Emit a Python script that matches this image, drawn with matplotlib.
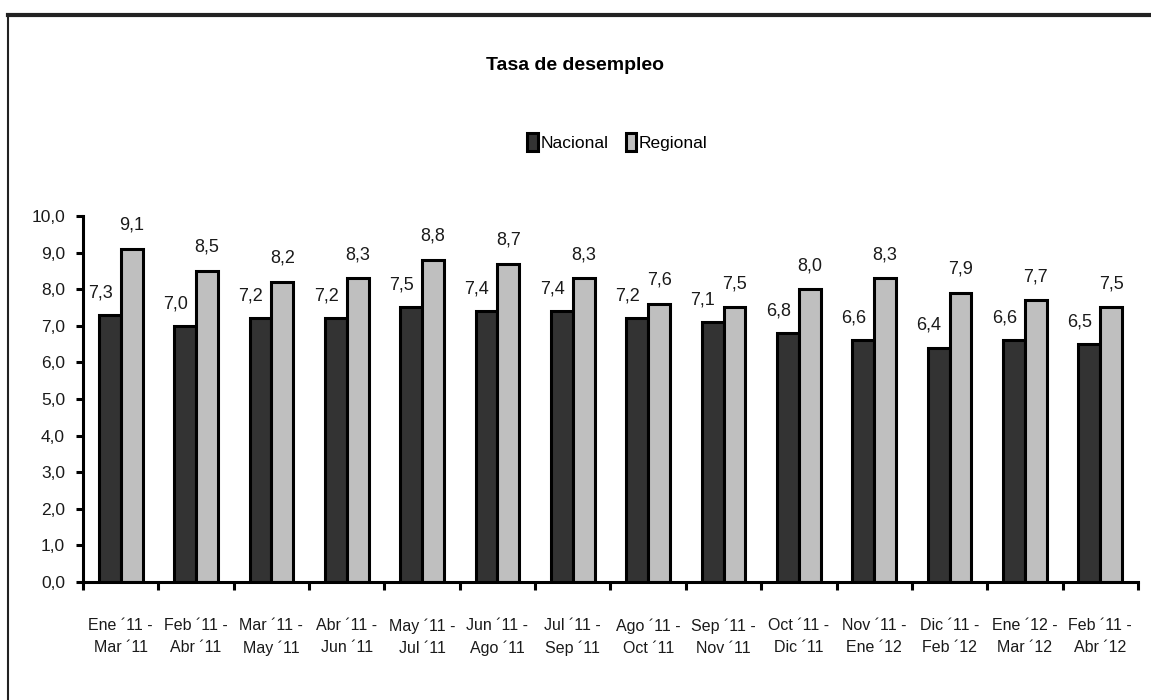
import matplotlib
matplotlib.use("Agg")
import matplotlib.pyplot as plt
from matplotlib.lines import Line2D
from matplotlib.ticker import FixedLocator, NullFormatter
import numpy as np

categories = ["Ene ´11 -\nMar ´11", "Feb ´11 -\nAbr ´11", "Mar ´11 -\nMay ´11", "Abr ´11 -\nJun ´11",
              "May ´11 -\nJul ´11", "Jun ´11 -\nAgo ´11", "Jul ´11 -\nSep ´11", "Ago ´11 -\nOct ´11",
              "Sep ´11 -\nNov ´11", "Oct ´11 -\nDic ´11", "Nov ´11 -\nEne ´12", "Dic ´11 -\nFeb ´12",
              "Ene ´12 -\nMar ´12", "Feb ´11 -\nAbr ´12"]
nacional = [7.3, 7.0, 7.2, 7.2, 7.5, 7.4, 7.4, 7.2, 7.1, 6.8, 6.6, 6.4, 6.6, 6.5]
regional = [9.1, 8.5, 8.2, 8.3, 8.8, 8.7, 8.3, 7.6, 7.5, 8.0, 8.3, 7.9, 7.7, 7.5]
series_names = ["Nacional", "Regional"]
title = "Tasa de desempleo"
yticks = [0, 1, 2, 3, 4, 5, 6, 7, 8, 9, 10]

FONT = ["Liberation Sans Narrow", "Liberation Sans", "DejaVu Sans"]
plt.rcParams["font.family"] = FONT

fig = plt.figure(figsize=(11.51, 7.0), dpi=100)
ax = fig.add_axes([0.0721, 0.1686, 0.9166, 0.5229])

x = np.arange(len(categories))
w = 0.29
b1 = ax.bar(x - w / 2, nacional, w, color="#333333", edgecolor="black", linewidth=2.2, label=series_names[0])
b2 = ax.bar(x + w / 2, regional, w, color="#bfbfbf", edgecolor="black", linewidth=2.2, label=series_names[1])

for xi, v in zip(x, nacional):
    ax.annotate(f"{v:.1f}".replace(".", ","), (xi - w / 2, v), xytext=(-7, 16), textcoords="offset points",
                ha="center", va="center", fontsize=13, color="#1a1a1a")
for xi, v in zip(x, regional):
    ax.annotate(f"{v:.1f}".replace(".", ","), (xi + w / 2, v), xytext=(0, 17), textcoords="offset points",
                ha="center", va="center", fontsize=13, color="#1a1a1a")

ax.set_xlim(-0.5, len(categories) - 0.5)
ax.set_ylim(0, 10)
ax.set_yticks(yticks)
ax.set_yticklabels([f"{t:.1f}".replace(".", ",") for t in yticks], fontsize=12.5, color="#1a1a1a")
ax.tick_params(axis="y", direction="out", length=5, width=2.2, pad=8)

ax.xaxis.set_major_locator(FixedLocator(np.arange(-0.5, len(categories), 1.0)))
ax.xaxis.set_major_formatter(NullFormatter())
ax.xaxis.set_minor_locator(FixedLocator(x))
ax.set_xticklabels(categories, minor=True, fontsize=11.5, color="#1a1a1a", linespacing=1.6)
ax.tick_params(axis="x", which="major", direction="out", length=6, width=2.2)
ax.tick_params(axis="x", which="minor", length=0, pad=26)

for s in ["top", "right"]:
    ax.spines[s].set_visible(False)
for s in ["left", "bottom"]:
    ax.spines[s].set_linewidth(2.2)

fig.text(0.4995, 0.907, title, ha="center", va="center", fontsize=14, fontweight="bold",
         family=["Liberation Sans", "DejaVu Sans"])

leg = fig.legend(handles=[b1, b2], labels=series_names, loc="center", bbox_to_anchor=(0.5365, 0.797),
                 ncol=2, frameon=False, fontsize=12.5, handlelength=0.6, handleheight=1.2,
                 handletextpad=0.15, columnspacing=1.0)

# outer frame lines
fig.add_artist(Line2D([0.007, 1.0], [0.979, 0.979], color="#222222", linewidth=3, transform=fig.transFigure))
fig.add_artist(Line2D([0.007, 0.007], [0.0, 0.979], color="#222222", linewidth=1.5, transform=fig.transFigure))

fig.savefig("out.png", dpi=100)
